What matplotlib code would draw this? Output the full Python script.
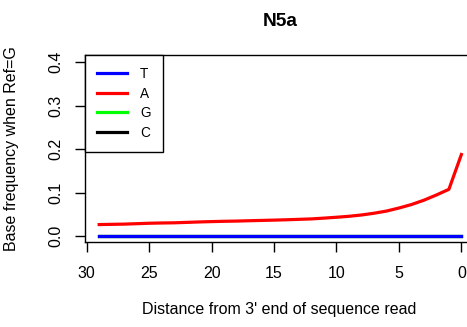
import matplotlib
matplotlib.use("Agg")
import matplotlib.pyplot as plt

plt.rcParams['font.family'] = ['Liberation Sans', 'DejaVu Sans']

# distance from 3' end, 29 .. 0
distance = list(range(29, -1, -1))
freq_T = [0.001] * 30
freq_A = [0.027, 0.0275, 0.028, 0.029, 0.0300, 0.0306, 0.031, 0.032, 0.033, 0.0338,
          0.0345, 0.035, 0.0358, 0.0365, 0.0372, 0.038, 0.039, 0.040, 0.0418, 0.0438,
          0.046, 0.049, 0.053, 0.058, 0.065, 0.073, 0.083, 0.095, 0.108, 0.135]
freq_A[-1] = 0.188
freq_G = [0.0] * 30
freq_C = [0.0] * 30
xticks = [30, 25, 20, 15, 10, 5, 0]
yticks = [0.0, 0.1, 0.2, 0.3, 0.4]

fig = plt.figure(figsize=(4.67, 3.27), dpi=100)
ax = fig.add_axes([85 / 467, 85 / 327, 388 / 467, 187 / 327])

lw = 2.3
lT, = ax.plot(distance, freq_T, color='#0000ff', lw=lw, zorder=5)
lA, = ax.plot(distance, freq_A, color='#ff0000', lw=lw, zorder=4)
lG, = ax.plot(distance, freq_G, color='#00ff00', lw=lw, zorder=3)
lC, = ax.plot(distance, freq_C, color='black', lw=lw, zorder=2)

ax.set_xlim(30.136, -0.93)
ax.set_ylim(-0.0131, 0.4168)
ax.set_xticks(xticks)
ax.set_xticklabels([str(t) for t in xticks])
ax.set_yticks(yticks)
ax.set_yticklabels(['0.0', '0.1', '0.2', '0.3', '0.4'], rotation=90, va='center')
ax.tick_params(direction='out', length=7, width=1, labelsize=11.5, colors='black')
ax.tick_params(axis='x', pad=10.5)
ax.tick_params(axis='y', pad=8.5)
for s in ax.spines.values():
    s.set_linewidth(1)

ax.set_xlabel("Distance from 3' end of sequence read", fontsize=11.5, labelpad=15)
ax.set_ylabel("Base frequency when Ref=G", fontsize=11.5, labelpad=21)
fig.text(280.5 / 467, 1 - 22 / 327, "N5a", ha='center', va='center',
         fontsize=13.8, fontweight='bold')

leg = ax.legend([lT, lA, lG, lC], ['T', 'A', 'G', 'C'], loc='upper left',
                bbox_to_anchor=(0, 1), borderaxespad=0, fontsize=9.8,
                handlelength=2.2, handletextpad=0.95, labelspacing=0.4,
                borderpad=0.9, fancybox=False, framealpha=1, edgecolor='black')
leg.get_frame().set_linewidth(1)

fig.savefig("out.png", dpi=100)
